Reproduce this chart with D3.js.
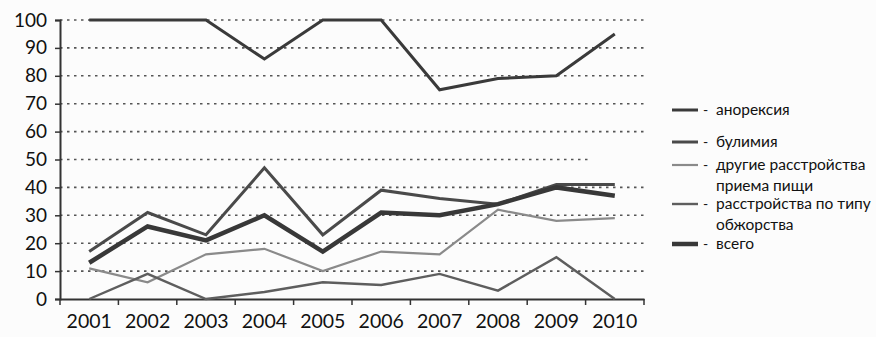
<!DOCTYPE html>
<html><head><meta charset="utf-8">
<script src="https://cdn.jsdelivr.net/npm/d3@7"></script>
<style>
html,body{margin:0;padding:0;background:#fcfcfc;}
svg{display:block;}
text{font-family:Lato, "Open Sans", sans-serif;fill:#111;}
</style></head>
<body>
<svg id="c" width="876" height="337"></svg>
<script>
const years = ["2001","2002","2003","2004","2005","2006","2007","2008","2009","2010"];
const anorexia = [100,100,100,86,100,100,75,79,80,95];
const bulimia = [17,31,23,47,23,39,36,34,41,41];
const otherEd = [11,6,16,18,10,17,16,32,28,29];
const binge = [0,9,0,2.5,6,5,9,3,15,0];
const total = [13,26,21,30,17,31,30,34,40,37];
const yTicks = [0,10,20,30,40,50,60,70,80,90,100];
const seriesNames = ["анорексия","булимия","другие расстройства|приема пищи","расстройства по типу|обжорства","всего"];

const svg = d3.select("#c");
const x = d3.scaleBand().domain(years).range([60,644]).padding(0);
const y = d3.scaleLinear().domain([0,100]).range([299,20]);
const cx = d => x(d) + x.bandwidth()/2;

// gridlines
svg.append("g").selectAll("line").data(yTicks.filter(t=>t>0)).join("line")
  .attr("x1",60).attr("x2",d=>d===50?592:644)
  .attr("y1",d=>y(d)).attr("y2",d=>y(d))
  .attr("stroke","#555").attr("stroke-width",1.6).attr("stroke-dasharray","2.5,4.5");

// y axis
const ya = svg.append("g").attr("transform","translate(60,0)")
  .call(d3.axisLeft(y).tickValues(yTicks).tickSize(5).tickPadding(8));
ya.select(".domain").attr("stroke","#333").attr("stroke-width",2);
ya.selectAll(".tick line").attr("stroke","#333").attr("stroke-width",1.5);
ya.selectAll("text").attr("font-size",19).attr("fill","#111").attr("font-family","Lato, sans-serif");

// x axis with boundary ticks
const xa = svg.append("g").attr("transform","translate(0,299)")
  .call(d3.axisBottom(x).tickSize(0).tickPadding(15));
xa.select(".domain").attr("stroke","#333").attr("stroke-width",2);
xa.selectAll("text").attr("font-size",19.5).attr("fill","#111").attr("font-family","Lato, sans-serif");
svg.append("g").selectAll("line").data(years.concat(["end"])).join("line")
  .attr("x1",(d,i)=>x.range()[0]+i*x.bandwidth()).attr("x2",(d,i)=>x.range()[0]+i*x.bandwidth())
  .attr("y1",299).attr("y2",305).attr("stroke","#333").attr("stroke-width",1.5);

const line = d3.line().x((d,i)=>cx(years[i])).y(d=>y(d));
const styles = [
  {data:anorexia, color:"#3a3a3a", w:3},
  {data:bulimia, color:"#4a4a4a", w:3},
  {data:otherEd, color:"#8a8a8a", w:2.2},
  {data:binge, color:"#5e5e5e", w:2.4},
  {data:total, color:"#383838", w:4.5}
];
const order = [2,3,1,4,0];
order.forEach(k=>{
  const s = styles[k];
  svg.append("path").attr("d",line(s.data)).attr("fill","none")
    .attr("stroke",s.color).attr("stroke-width",s.w).attr("stroke-linejoin","miter");
});

// legend
const legY = [110,142,165,204,244];
const lg = svg.append("g");
seriesNames.forEach((name,i)=>{
  const s = styles[i];
  lg.append("line").attr("x1",672).attr("x2",698).attr("y1",legY[i]).attr("y2",legY[i])
    .attr("stroke",s.color).attr("stroke-width",s.w);
  lg.append("text").attr("x",703).attr("y",legY[i]).attr("dy","0.35em").attr("font-size",14).text("-");
  const parts = name.split("|");
  parts.forEach((p,j)=>{
    lg.append("text").attr("x",716).attr("y",legY[i]+j*20.5).attr("dy","0.35em")
      .attr("font-size",15.5).text(p);
  });
});
</script>
</body></html>
